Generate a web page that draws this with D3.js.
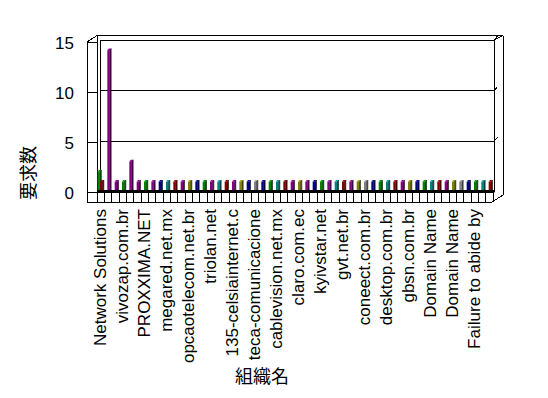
<!DOCTYPE html>
<html>
<head>
<meta charset="utf-8">
<script src="https://cdn.jsdelivr.net/npm/d3@7"></script>
<style>
  body { margin: 0; background: #fff; }
  svg { display: block; }
</style>
</head>
<body>
<svg id="chart" width="548" height="398"></svg>
<script>
// requests per organisation (one cell per organisation)
var requests = [1,14,1,1,3,1,1,1,1,1, 1,1,1,1,1,1,1,1,1,1,
                1,1,1,1,1,1,1,1,1,1, 1,1,1,1,1,1,1,1,1,1,
                1,1,1,1,1,1,1,1,1,1, 1,1,1,1];
// second (back) series, only the first organisation has one
var requestsBack = [2,0,0,0,0,0,0,0,0,0, 0,0,0,0,0,0,0,0,0,0,
                    0,0,0,0,0,0,0,0,0,0, 0,0,0,0,0,0,0,0,0,0,
                    0,0,0,0,0,0,0,0,0,0, 0,0,0,0];
// only every third organisation gets a label
var tickLabels = ["Network Solutions","vivozap.com.br","PROXXIMA.NET","megared.net.mx",
    "opcaotelecom.net.br","triolan.net","135-celsiainternet.c","teca-comunicacione",
    "cablevision.net.mx","claro.com.ec","kyivstar.net","gvt.net.br","coneect.com.br",
    "desktop.com.br","gbsn.com.br","Domain Name","Domain Name","Failure to abide by"];
var yTicks = [0, 5, 10, 15];

var palette = {r: "#800000", p: "#800080", g: "#008000", b: "#000080",
               c: "#008080", o: "#808000", y: "#808080"};
var barColors = ["r","p","p","g","p","p","g","p","b","c", "r","p","o","b","g","p","c","r","p","o",
                 "b","y","b","g","c","r","p","o","p","b", "g","p","c","r","p","o","y","b","g","c",
                 "r","p","o","b","g","c","r","p","o","y", "b","g","c","r"];

var svg = d3.select("#chart");
var font = "'Liberation Sans', Arial, sans-serif";
var cjk = "'Noto Sans CJK JP', sans-serif";

var x = d3.scaleBand()
    .domain(d3.range(requests.length))
    .range([97.3, 493.3]);

// back wall scale and left wall scale (slightly lower)
var y = d3.scaleLinear().domain([0, 15]).range([191.7, 40]);
var yLeft = d3.scaleLinear().domain([0, 15]).range([192.5, 42.5]);

var g = svg.append("g").attr("stroke", "#000").attr("fill", "none")
    .attr("stroke-width", 1).attr("shape-rendering", "crispEdges");

function ln(x1, y1, x2, y2) {
    g.append("line").attr("x1", x1).attr("y1", y1).attr("x2", x2).attr("y2", y2);
}

// frame
ln(87, 42, 87, 202);
ln(87, 202, 492, 202);
ln(492, 202, 503, 195);
ln(503, 195, 503, 35.5);
ln(97, 35.5, 503, 35.5);
ln(87, 42, 97, 35.5);
ln(97.3, 35.5, 97.3, 192);
ln(100.7, 40, 100.7, 192);
ln(494.3, 40, 494.3, 192);
ln(494.3, 40, 503, 35.5);

// grid lines on back wall
yTicks.filter(function(d){ return d > 0; }).forEach(function(d){
    ln(100.7, y(d), 494.3, y(d));
    ln(494.3, y(d), 497.5, y(d) - 4);
});

// ticks on left wall
yTicks.forEach(function(d){
    ln(87, yLeft(d), 97.3, yLeft(d));
});

// floor front cells
d3.range(requests.length + 1).forEach(function(i){
    var xx = i < requests.length ? x(i) : x.range()[1];
    ln(xx, 192, xx, 202);
});

svg.selectAll(".ylab")
    .data(yTicks)
    .enter().append("text")
    .attr("x", 74)
    .attr("y", function(d){ return yLeft(d); })
    .attr("dy", "0.36em")
    .attr("text-anchor", "end")
    .attr("font-family", font)
    .attr("font-size", 17)
    .text(function(d){ return d; });

function drawBar(sel, left, v, col) {
    var w = 2.4, s = 1.4;
    var top = y(v), bottom = y(0);
    sel.append("polygon")
        .attr("points", [[left + w, top], [left + w + s, top - 1.5], [left + w + s, bottom], [left + w, bottom]].join(" "))
        .attr("fill", d3.color(col).darker(0.8))
        .attr("stroke", "#000").attr("stroke-width", 0.6);
    sel.append("polygon")
        .attr("points", [[left, top], [left + s, top - 1.5], [left + w + s, top - 1.5], [left + w, top]].join(" "))
        .attr("fill", d3.color(col).brighter(0.6));
    sel.append("rect")
        .attr("x", left).attr("y", top)
        .attr("width", w).attr("height", bottom - top)
        .attr("fill", col);
}

var bars = svg.append("g");
requestsBack.forEach(function(v, i){
    if (v > 0) drawBar(bars, x(i) + 0.2, v, palette.g);
});
requests.forEach(function(v, i){
    if (v > 0) drawBar(bars, x(i) + 2.7, v, palette[barColors[i]]);
});

// floor back edge
svg.append("line")
    .attr("x1", 97.3).attr("x2", 494.3)
    .attr("y1", 191.5).attr("y2", 191.5)
    .attr("stroke", "#000").attr("stroke-width", 3);

svg.selectAll(".xlab")
    .data(tickLabels)
    .enter().append("text")
    .attr("transform", function(d, i){
        var cx = x(i * 3) + x.bandwidth() / 2 - 1.5;
        return "translate(" + cx + ",209) rotate(-90)";
    })
    .attr("dy", "0.36em")
    .attr("text-anchor", "end")
    .attr("font-family", font)
    .attr("font-size", 17)
    .text(function(d){ return d; });

svg.append("text")
    .attr("transform", "translate(29,173) rotate(-90)")
    .attr("dy", "0.36em")
    .attr("text-anchor", "middle")
    .attr("font-family", cjk)
    .attr("font-size", 18)
    .text("要求数");

svg.append("text")
    .attr("x", 262).attr("y", 377)
    .attr("dy", "0.36em")
    .attr("text-anchor", "middle")
    .attr("font-family", cjk)
    .attr("font-size", 18)
    .text("組織名");
</script>
</body>
</html>
